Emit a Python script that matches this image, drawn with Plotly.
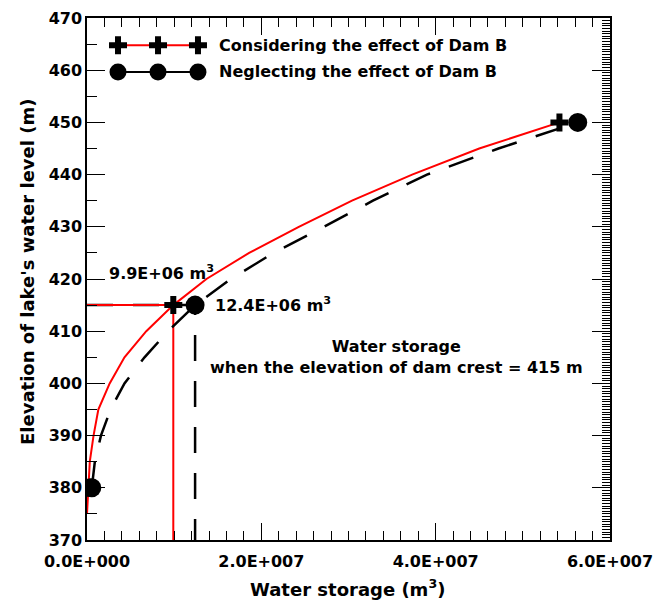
import plotly.graph_objects as go

# ---- data ----
elev_considering = [375, 380, 385, 390, 395, 400, 405, 410, 415, 420, 425, 430, 435, 440, 445, 450]
storage_considering = [0, 1.5e5, 3.2e5, 7.5e5, 1.3e6, 2.6e6, 4.3e6, 6.8e6, 9.9e6,
                       1.37e7, 1.86e7, 2.43e7, 3.04e7, 3.73e7, 4.5e7, 5.42e7]
elev_neglecting = [380, 385, 390, 395, 400, 405, 410, 415, 420, 425, 430, 435, 440, 445, 450]
storage_neglecting = [5.5e5, 9e5, 1.6e6, 2.7e6, 4.3e6, 6.6e6, 9.3e6, 1.24e7,
                      1.65e7, 2.14e7, 2.72e7, 3.28e7, 3.9e7, 4.72e7, 5.63e7]
marker_elev = [380, 415, 450]
marker_storage_considering = [1.5e5, 9.9e6, 5.42e7]
marker_storage_neglecting = [5.5e5, 1.24e7, 5.63e7]
crest_elev = 415
crest_storage_considering = 9.9e6
crest_storage_neglecting = 1.24e7
x_tickvals = [0, 2e7, 4e7, 6e7]
x_ticktext = ["0.0E+000", "2.0E+007", "4.0E+007", "6.0E+007"]
y_tickvals = [370, 380, 390, 400, 410, 420, 430, 440, 450, 460, 470]
legend_names = ["Considering the effect of Dam B", "Neglecting the effect of Dam B"]

FONT = "DejaVu Sans, Liberation Sans, sans-serif"
RED = "#ff0000"

fig = go.Figure()

# reference lines at dam crest
fig.add_trace(go.Scatter(
    x=[0, crest_storage_neglecting, crest_storage_neglecting],
    y=[crest_elev, crest_elev, 370], mode="lines",
    line=dict(color="black", width=2.5, dash="26px,20px"), showlegend=False))
fig.add_trace(go.Scatter(
    x=[0, crest_storage_considering, crest_storage_considering],
    y=[crest_elev, crest_elev, 370], mode="lines",
    line=dict(color=RED, width=2), showlegend=False))

# curves
fig.add_trace(go.Scatter(x=storage_neglecting, y=elev_neglecting, mode="lines",
                         line=dict(color="black", width=2.5, dash="26px,20px"),
                         showlegend=False))
fig.add_trace(go.Scatter(x=storage_considering, y=elev_considering, mode="lines",
                         line=dict(color=RED, width=2), showlegend=False))
# markers
fig.add_trace(go.Scatter(x=marker_storage_considering, y=marker_elev, mode="markers",
                         marker=dict(symbol="cross", size=15, color="black"),
                         showlegend=False))
fig.add_trace(go.Scatter(x=marker_storage_neglecting, y=marker_elev, mode="markers",
                         marker=dict(symbol="circle", size=19, color="black"),
                         showlegend=False))

# empty trace so the right-hand axis (y2) is drawn
fig.add_trace(go.Scatter(x=[None], y=[None], yaxis="y2", mode="lines",
                         showlegend=False, hoverinfo="skip"))

# ---- custom legend drawn on a paper-like overlay axis ----
lx = [0.0593, 0.1358, 0.2122]
row1, row2 = 0.948, 0.8966
fig.add_trace(go.Scatter(x=lx, y=[row1] * 3, mode="lines+markers", xaxis="x3", yaxis="y3",
                         line=dict(color=RED, width=2),
                         marker=dict(symbol="cross", size=15, color="black"),
                         showlegend=False, hoverinfo="skip"))
fig.add_trace(go.Scatter(x=lx, y=[row2] * 3, mode="lines+markers", xaxis="x3", yaxis="y3",
                         line=dict(color="black", width=2),
                         marker=dict(symbol="circle", size=17, color="black"),
                         showlegend=False, hoverinfo="skip"))

ann_font = dict(family=FONT, size=16, color="black", weight="bold")
for name, yy in zip(legend_names, [row1, row2]):
    fig.add_annotation(x=0.2486, y=yy, xref="paper", yref="paper", xanchor="left",
                       yanchor="middle", showarrow=False, text=name, font=ann_font)

fig.add_annotation(x=0.0375, y=0.5134, xref="paper", yref="paper", xanchor="left",
                   yanchor="middle", showarrow=False,
                   text="9.9E+06 m<sup>3</sup>", font=ann_font)
fig.add_annotation(x=0.2405, y=0.4502, xref="paper", yref="paper", xanchor="left",
                   yanchor="middle", showarrow=False,
                   text="12.4E+06 m<sup>3</sup>", font=ann_font)
fig.add_annotation(x=0.5927, y=0.3506, xref="paper", yref="paper", xanchor="center",
                   yanchor="middle", showarrow=False, align="center",
                   text="Water storage<br>when the elevation of dam crest = 415 m",
                   font=ann_font)

tickfont = dict(family=FONT, size=16, color="black", weight="bold")
titlefont = dict(family=FONT, size=18, color="black", weight="bold")

# axis titles as annotations for exact placement
fig.add_annotation(x=(347 - 87) / 523, y=-48 / 522, xref="paper", yref="paper",
                   xanchor="center", yanchor="middle", showarrow=False,
                   text="Water storage (m<sup>3</sup>)", font=titlefont)
fig.add_annotation(x=(27 - 87) / 523, y=(540 - 272) / 522, xref="paper", yref="paper",
                   xanchor="center", yanchor="middle", showarrow=False, textangle=-90,
                   text="Elevation of lake's water level (m)", font=titlefont)

fig.update_layout(
    width=663, height=600,
    margin=dict(l=87, r=53, t=18, b=60),
    paper_bgcolor="white", plot_bgcolor="white",
    showlegend=False,
    xaxis=dict(range=[0, 6e7], tickmode="array", tickvals=x_tickvals, ticktext=x_ticktext,
               ticks="inside", ticklen=17, tickwidth=1, tickcolor="black",
               ticklabelstandoff=6,
               minor=dict(tickmode="linear", tick0=0, dtick=2e6, ticks="inside",
                          ticklen=9, tickcolor="black", tickwidth=1),
               showline=True, linecolor="black", linewidth=1.5, mirror="ticks",
               showgrid=False, zeroline=False, tickfont=tickfont,
               automargin=False),
    yaxis=dict(range=[370, 470], tickmode="array", tickvals=y_tickvals,
               ticks="inside", ticklen=18, tickwidth=1, tickcolor="black",
               minor=dict(tickmode="linear", tick0=370, dtick=5, ticks="inside",
                          ticklen=10, tickcolor="black", tickwidth=1),
               showline=True, linecolor="black", linewidth=1.5, mirror=False,
               showgrid=False, zeroline=False, tickfont=tickfont,
               automargin=False),
    yaxis2=dict(range=[370, 470], overlaying="y", side="right", anchor="x",
                tickmode="linear", tick0=370, dtick=10, ticks="inside", ticklen=18,
                tickcolor="black", showticklabels=False,
                minor=dict(tickmode="linear", tick0=370, dtick=0.5, ticks="inside",
                           ticklen=8, tickcolor="black", tickwidth=1),
                showline=True, linecolor="black", linewidth=1.5,
                showgrid=False, zeroline=False, automargin=False),
    xaxis3=dict(range=[0, 1], domain=[0, 1], overlaying="x", visible=False, anchor="y3"),
    yaxis3=dict(range=[0, 1], domain=[0, 1], overlaying="y", visible=False, anchor="x3"),
)

fig.write_html("out.html")
